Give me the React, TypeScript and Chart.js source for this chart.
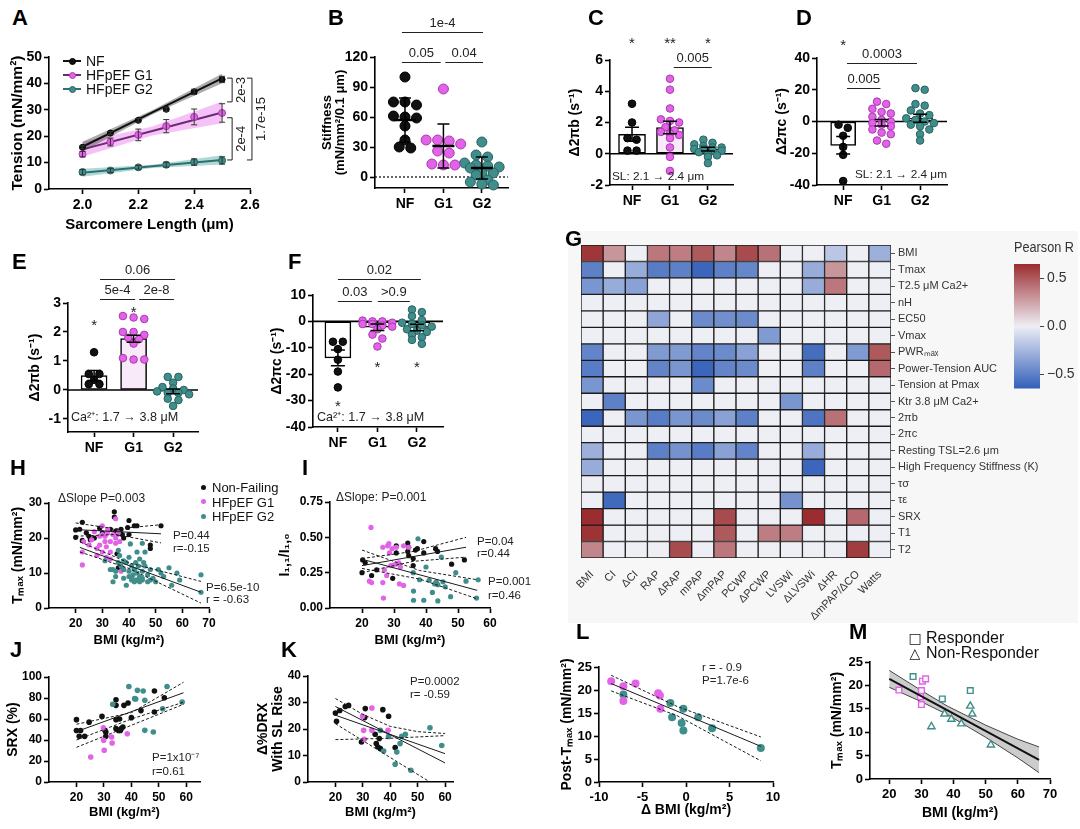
import React, { useEffect, useRef } from "react";
import { Chart, registerables } from "chart.js";

const FONT = "'Liberation Sans', Arial, Helvetica, sans-serif";
const NARROW = "'Liberation Sans Narrow', 'Liberation Sans', Arial, sans-serif";

const C_NF = "#111111";
const C_G1 = "#e262e8";
const C_G1_EDGE = "#a83bae";
const C_G2 = "#3f8e8b";
const C_G2_EDGE = "#2a6260";
const PT_FILL = [C_NF, C_G1, C_G2];
const PT_EDGE = ["#000000", C_G1_EDGE, C_G2_EDGE];
const BAR_FILL = ["#ffffff", "#f8eaf8", "#e8f1f1"];

type Pt = [number, number];

// ================= DATA =================
const groupLabels = ["NF", "G1", "G2"];
const catTicks = [0, 1, 2];

// ---- Panel A ----
const aSL = [2.0, 2.1, 2.2, 2.3, 2.4, 2.5];
const aNF = [15.8, 21.2, 26.0, 30.2, 36.8, 41.5];
const aNFerr = [0.6, 0.6, 0.7, 0.8, 1.0, 1.2];
const aG1 = [13.2, 17.8, 20.5, 23.8, 27.3, 28.8];
const aG1err = [1.0, 1.5, 2.2, 2.5, 3.0, 3.5];
const aG2 = [6.4, 7.0, 8.2, 9.2, 10.2, 10.8];
const aG2err = [1.0, 0.7, 0.7, 0.9, 1.2, 1.4];
const aFitSL = [2.0, 2.25, 2.5];
const aNFfit = [16.0, 29.0, 41.9];
const aNFlo = [14.1, 28.2, 40.1];
const aNFhi = [17.9, 29.8, 43.7];
const aG1fit = [15.0, 22.0, 29.0];
const aG1lo = [12.2, 20.3, 24.9];
const aG1hi = [17.9, 23.7, 33.1];
const aG2fit = [6.2, 8.6, 11.0];
const aG2lo = [4.6, 8.0, 9.3];
const aG2hi = [7.7, 9.2, 12.8];
const aXTicks = [2.0, 2.2, 2.4, 2.6];
const aYTicks = [0, 10, 20, 30, 40, 50];
const aLegend = ["NF", "HFpEF G1", "HFpEF G2"];

// ---- Panel B (stiffness) ----
const bNF = [100, 75, 72, 75, 59, 60, 61, 51, 37, 29, 30];
const bG1 = [88, 37, 36, 37, 33, 26, 24, 12, 13, 12];
const bG2 = [35, 22, 20, 14, 12, 11, 10, 9, 4, 2, 4, -3, -5, -7, -8];
const bMean = [57, 31, 9];
const bSD = [22, 22, 11];
const bYTicks = [0, 30, 60, 90, 120];

// ---- Panel C ----
const cNF = [3.2, 2.0, 1.0, 0.2, 0.2, 0.9];
const cG1 = [4.8, 4.1, 2.9, 2.2, 2.1, 2.0, 1.7, 1.5, 1.4, 1.3, 1.2, 1.0, 0.4, -0.2, -1.1];
const cG2 = [0.9, 0.7, 0.6, 0.5, 0.4, 0.4, 0.3, 0.3, 0.2, 0.2, 0.1, 0.0, -0.1, -0.2, -0.6];
const cMean = [1.25, 1.68, 0.3];
const cSEM = [0.45, 0.4, 0.12];
const cYTicks = [-2, 0, 2, 4, 6];

// ---- Panel D ----
const dNF = [-4, -2, -9, -16, -21, -37.5];
const dG1 = [12.5, 11, 8, 6, 5, 3, 1, 0, -1, -2, -3, -5, -7, -8, -12, -14];
const dG2 = [21, 20, 11, 10, 7, 5, 4, 2, 1, 0, -1, -2, -3, -5, -8, -12];
const dMean = [-15, -0.8, 2];
const dSEM = [5.5, 2, 2.5];
const dYTicks = [-40, -20, 0, 20, 40];

// ---- Panel E ----
const eNF = [1.3, 0.55, 0.55, 0.35, 0.2, 0.2];
const eG1 = [2.45, 2.55, 2.5, 2.0, 1.9, 2.0, 1.8, 1.6, 1.75, 1.05, 1.05, 1.1];
const eG2 = [0.45, 0.45, 0.25, 0.1, 0.05, 0, -0.05, -0.1, -0.1, -0.15, -0.3, -0.35, -0.55];
const eMean = [0.5, 1.77, -0.05];
const eSEM = [0.17, 0.12, 0.08];
const eYTicks = [-1, 0, 1, 2, 3];

// ---- Panel F ----
const fNF = [-7.7, -7.7, -10.5, -14.5, -19, -25];
const fG1 = [0, 0, 0.3, -0.5, -1, -1, -1.5, -2, -3, -5, -6.5, -9.5];
const fG2 = [4.5, 3.5, 2, 0.5, -0.5, -1, -1.5, -2, -3, -3.5, -4, -5, -6, -7, -8.5];
const fMean = [-13.8, -2.2, -2.3];
const fSEM = [3, 1.2, 1.2];
const fYTicks = [-40, -30, -20, -10, 0, 10];

// ---- Panel G (heatmap) ----
const gRows = [
  "BMI", "Tmax", "T2.5 μM Ca2+", "nH", "EC50", "Vmax", "PWRₘₐₓ", "Power-Tension AUC",
  "Tension at Pmax", "Ktr 3.8 μM Ca2+", "2πb", "2πc", "Resting TSL=2.6 μm",
  "High Frequency Stiffness (K)", "τσ", "τε", "SRX", "T1", "T2",
];
const gCols = ["BMI", "CI", "ΔCI", "RAP", "ΔRAP", "mPAP", "ΔmPAP", "PCWP", "ΔPCWP", "LVSWi", "ΔLVSWi", "ΔHR", "ΔmPAP/ΔCO", "Watts"];
const gR: number[][] = [
  [0.62, 0.30, 0, 0.40, 0.38, 0.50, 0.35, 0.55, 0.42, 0, 0, -0.18, 0, -0.28],
  [-0.50, 0, -0.30, -0.52, -0.50, -0.62, -0.50, -0.47, 0, 0, -0.30, 0.30, 0, 0],
  [-0.40, -0.30, -0.35, 0, 0, 0, 0, 0, 0, 0, -0.30, 0.40, 0, 0],
  [0, 0, 0, 0, 0, 0, 0, 0, 0, 0, 0, 0, 0, 0],
  [0, 0, 0, -0.33, 0, -0.45, -0.43, -0.45, 0, 0, 0, 0, 0, 0],
  [0, 0, 0, 0, 0, 0, 0, 0, -0.38, 0, 0, 0, 0, 0],
  [-0.48, 0, 0, -0.38, -0.38, -0.48, -0.45, -0.35, 0, 0, -0.58, 0, -0.38, 0.50],
  [-0.52, 0, 0, -0.48, -0.40, -0.62, -0.48, -0.45, 0, 0, -0.50, 0, 0, 0.45],
  [-0.40, 0, 0, 0, 0, -0.45, 0, 0, 0, 0, 0, 0, 0, 0],
  [0, -0.50, 0, 0, 0, 0, 0, 0, 0, -0.40, 0, 0, 0, 0],
  [-0.62, 0, -0.40, -0.52, -0.40, -0.45, -0.35, -0.50, 0, 0, -0.55, 0.42, 0, 0],
  [0, 0, 0, 0, 0, 0, 0, 0, 0, 0, 0, 0, 0, 0],
  [-0.28, 0, 0, -0.50, -0.42, -0.52, -0.35, -0.48, 0, 0, -0.30, 0, 0, 0],
  [-0.30, 0, 0, 0, 0, 0, 0, 0, 0, 0, -0.62, 0, 0, 0],
  [0, 0, 0, 0, 0, 0, 0, 0, 0, 0, 0, 0, 0, 0],
  [0, -0.60, 0, 0, 0, 0, 0, 0, 0, -0.42, 0, 0, 0, 0],
  [0.65, 0, 0, 0, 0, 0, 0.55, 0, 0, 0, 0.65, 0, 0.45, 0],
  [0.63, 0, 0, 0, 0, 0, 0.50, 0, 0.38, 0.38, 0, 0, 0, 0],
  [0.35, 0, 0, 0, 0.55, 0, 0.40, 0, 0, 0, 0, 0, 0.60, 0],
];
const cbMin = -0.65;
const cbMax = 0.65;
const cbTicks = [-0.5, 0, 0.5];

// ---- Panel H ----
const hNF: Pt[] = [[20,22.3],[20,20.2],[21.5,22.5],[22.5,24.5],[22.5,19.3],[24,21.5],[25.5,19.5],[27,20],[29,22.8],[33,22.5],[34.5,27.5],[34.5,26],[35,22],[36,21.2],[36.5,21.8],[37,22.5],[37.5,21],[38,20],[39.5,23],[40,25],[40,21],[42,23.5],[43,23.5],[48,18],[48,17],[52,23.5],[35.5,15.5],[36,11.5],[30,21.5],[25,20.5]];
const hG1: Pt[] = [[22.5,12.3],[22.5,16],[23,19],[25,18],[26,19.5],[27,21.8],[28,15],[28,17],[29,20.5],[30,23.5],[30,21],[30,16],[31,20.5],[31,19],[31.5,17.5],[31.5,14.5],[32,21.5],[32,22.5],[33,16],[33,19],[35,25.5],[35,20],[35,18.5],[36,21.5],[36.5,19],[37,10.5],[38,11],[29,18],[33,14],[34,21]];
const hG2: Pt[] = [[31,13.5],[33,11],[34,7.5],[35,9],[35,10.5],[36,13],[36.5,15],[37,12],[38,8.5],[38,11],[39,13],[39,6.5],[40,9],[40,10.5],[40.5,18.3],[41,8],[41,12],[41.5,9.5],[42,7.5],[42,11],[42.5,13],[43,8],[43,10],[43.5,12],[44,7.5],[44,9],[44,14],[45,8],[45,10.5],[45.5,13],[45,18.5],[46,12],[47,9.5],[48,8],[48,11],[49,8.5],[50,7.5],[51,11],[52,10],[53,9],[55,11.5],[56,6.5],[58,10],[59,8],[67,9.5],[67,4.5],[46,16],[38,13.5],[40,14.5],[43,16],[36,16.5],[34,11],[47,7.5],[44,8.5],[41,8.5],[42.5,8],[43.5,8],[45,8.5]];
const hFitNF: Pt[] = [[20,22.4],[52,21.2]];
const hHiNF: Pt[] = [[20,24.3],[35,22.6],[52,23.8]];
const hLoNF: Pt[] = [[20,20.5],[35,21.0],[52,18.6]];
const hFitHF: Pt[] = [[21.6,17.3],[67,4.5]];
const hHiHF: Pt[] = [[21.6,18.9],[40,12.9],[67,7.6]];
const hLoHF: Pt[] = [[21.6,16],[40,11.3],[67,1.4]];
const hXTicks = [20, 30, 40, 50, 60, 70];
const hYTicks = [0, 10, 20, 30];
const hLegend = ["Non-Failing", "HFpEF G1", "HFpEF G2"];

// ---- Panel I ----
const iNF: Pt[] = [[20,0.25],[20.2,0.34],[21,0.32],[23,0.23],[24.6,0.27],[29.6,0.21],[30.7,0.44],[30.7,0.39],[34.3,0.46],[34.6,0.43],[34.6,0.37],[36,0.35],[36,0.30],[36.7,0.41],[37.3,0.42],[39.3,0.47],[39.3,0.39],[43,0.42],[43.6,0.40],[48,0.31],[52,0.34],[34.3,0.40]];
const iG1: Pt[] = [[22.8,0.57],[22.3,0.19],[23,0.18],[26.5,0.43],[26.7,0.07],[28,0.44],[28.4,0.455],[28.6,0.39],[27,0.27],[27.7,0.23],[29.4,0.42],[29.6,0.30],[30.5,0.31],[30.7,0.43],[31.5,0.32],[31.7,0.17],[33,0.16],[33,0.44],[34.6,0.43],[32,0.29],[26.5,0.18],[29,0.30]];
const iG2: Pt[] = [[37.5,0.49],[36,0.25],[36.1,0.12],[36.1,0.055],[38,0.20],[39.3,0.055],[40,0.29],[41,0.196],[42,0.11],[42.7,0.17],[43.2,0.185],[43.7,0.165],[43.7,0.05],[44.8,0.36],[45.3,0.185],[46,0.15],[47.7,0.08],[49.3,0.25],[52.5,0.19],[56.3,0.20],[55.8,0.07]];
const iFitNF: Pt[] = [[20,0.30],[52.5,0.43]];
const iHiNF: Pt[] = [[20,0.35],[36,0.40],[52.5,0.50]];
const iLoNF: Pt[] = [[20,0.25],[36,0.33],[52.5,0.36]];
const iFitHF: Pt[] = [[20,0.345],[56,0.125]];
const iHiHF: Pt[] = [[20,0.41],[38,0.265],[56,0.20]];
const iLoHF: Pt[] = [[20,0.28],[38,0.205],[56,0.065]];
const iXTicks = [20, 30, 40, 50, 60];
const iYTicks = [0, 0.25, 0.5, 0.75];

// ---- Panel J ----
const jNF: Pt[] = [[20,59.4],[20,49],[21.5,49],[21,43.5],[23,43.5],[24.6,57],[29.3,62.5],[30.4,49],[30.7,43.5],[30.7,47.6],[34.4,78.4],[34.4,73],[34.4,59.4],[34.4,50.8],[35.3,49],[35.7,60],[36,49],[36.9,52.4],[37.3,73],[38.8,75.2],[40,61.3],[43.5,68],[48.4,86.7],[48.4,66.7],[52,80.3],[36.3,50.8]];
const jG1: Pt[] = [[25.2,23.8],[29.8,51.7],[29.9,39.7],[30.1,30.2],[32.8,42.9],[33,37.1],[38.5,46]];
const jG2: Pt[] = [[33.2,74],[39.1,91],[41.2,79.4],[42.2,87.3],[44.3,86.7],[44.9,77.8],[44.9,49.2],[48,47.6],[51.4,69.8],[53,91],[58.5,76.2],[41.6,79]];
const jHi: Pt[] = [[20,55],[40,66],[59,95]];
const jFit: Pt[] = [[20,48],[59,85]];
const jLo: Pt[] = [[20,40],[40,60],[59,76]];
const jLo2: Pt[] = [[20,33],[59,74]];
const jXTicks = [20, 30, 40, 50, 60];
const jYTicks = [0, 20, 40, 60, 80, 100];

// ---- Panel K ----
const kNF: Pt[] = [[20,26],[20.4,22.9],[21.6,27],[23.6,28.5],[24.8,28.9],[29.5,15.1],[30.7,24.3],[30.9,27.7],[34.5,18],[34.9,14.5],[35.5,13.2],[36,16.4],[36.4,12.6],[37.3,27.3],[39.4,24.8],[41.8,13]];
const kG1: Pt[] = [[29.9,24.8],[30.3,19.5],[30.5,16.1],[33.3,27.9],[33.3,19.5],[39.2,19.5]];
const kG2: Pt[] = [[36.4,19.5],[37.6,11.7],[39.4,17.2],[41.8,6.7],[42.4,11.3],[43.6,14.5],[44.2,17.2],[45.5,18],[47.5,4.4],[54.5,20.5],[58.8,13.8]];
const kHi: Pt[] = [[20,31.5],[30,25.5],[40,21],[50,19],[60,18.3]];
const kFitA: Pt[] = [[20,28.5],[60,7.2]];
const kFitB: Pt[] = [[20,25.2],[60,10.7]];
const kLo: Pt[] = [[20,16],[40,16.5],[60,17.5]];
const kSteep: Pt[] = [[20,22],[54.5,0]];
const kXTicks = [20, 30, 40, 50, 60];
const kYTicks = [0, 10, 20, 30, 40];

// ---- Panel L ----
const lG1: Pt[] = [[-8.6,21.9],[-7.2,20.8],[-7.2,17.6],[-5.8,21.4],[-3.2,19.3],[-3.0,18.8],[-2.95,15.9]];
const lG2: Pt[] = [[-7.2,19],[-1.8,17.2],[-1.6,14.1],[-0.3,15.9],[-0.5,12.8],[-0.3,11.2],[1.4,14.1],[3.0,11.7],[8.6,7.4]];
const lFit: Pt[] = [[-8.6,21.4],[8.6,7.75]];
const lHi: Pt[] = [[-8.6,23.2],[-1,16.4],[8.6,9.8]];
const lLo: Pt[] = [[-8.6,19.8],[-1,14.4],[8.6,4.6]];
const lXTicks = [-10, -5, 0, 5, 10];
const lYTicks = [0, 5, 10, 15, 20, 25];

// ---- Panel M ----
const mRespG1: Pt[] = [[23,19],[30.3,20.9],[31.3,21.4],[30,18.9],[29.7,17.6],[30,15.9]];
const mRespG2: Pt[] = [[27.4,21.9],[36.5,17.1],[45.2,18.9]];
const mNonResp: Pt[] = [[33.1,11.2],[37.2,13.9],[39.3,12.8],[42.4,11.8],[45.2,15.6],[45.8,13.9],[51.6,7.3]];
const mFit: Pt[] = [[20,21.4],[66.6,4.1]];
const mHi: Pt[] = [[20,23.2],[30,18.9],[38,15.6],[50,11.5],[60,8.5],[66.6,6.85]];
const mLo: Pt[] = [[20,19.6],[30,16.5],[38,13.8],[50,8.9],[60,4.5],[66.6,1.35]];
const mXTicks = [20, 30, 40, 50, 60, 70];
const mYTicks = [0, 5, 10, 15, 20, 25];
const mLegend = ["Responder", "Non-Responder"];

// ================= LAYOUT =================
type Box = { x: number; y: number; w: number; h: number };
type Area = { l: number; t: number; r: number; b: number };

const BOX: Record<string, Box> = {
  A: { x: 0, y: 30, w: 290, h: 205 },
  B: { x: 295, y: 0, w: 240, h: 235 },
  C: { x: 545, y: 0, w: 200, h: 235 },
  D: { x: 750, y: 0, w: 215, h: 235 },
  E: { x: 0, y: 255, w: 215, h: 200 },
  F: { x: 220, y: 255, w: 240, h: 200 },
  G: { x: 555, y: 232, w: 495, h: 395 },
  CB: { x: 980, y: 240, w: 94, h: 160 },
  H: { x: 0, y: 475, w: 280, h: 175 },
  I: { x: 275, y: 475, w: 275, h: 175 },
  J: { x: 0, y: 665, w: 250, h: 164 },
  K: { x: 250, y: 665, w: 230, h: 164 },
  L: { x: 556, y: 640, w: 234, h: 189 },
  M: { x: 825, y: 640, w: 250, h: 189 },
};
const AREA: Record<string, Area> = {
  A: { l: 49, t: 57, r: 250, b: 189 },
  B: { l: 375, t: 57, r: 508, b: 188 },
  C: { l: 610, t: 60, r: 733, b: 185 },
  D: { l: 817, t: 58, r: 947, b: 185 },
  E: { l: 68, t: 303, r: 198, b: 432 },
  F: { l: 313, t: 295, r: 443, b: 427 },
  G: { l: 581, t: 245, r: 891, b: 558 },
  CB: { l: 1014, t: 264, r: 1040, b: 390 },
  H: { l: 49, t: 503, r: 209, b: 608 },
  I: { l: 330, t: 502, r: 490, b: 608 },
  J: { l: 49, t: 677, r: 200, b: 782 },
  K: { l: 308, t: 676, r: 453, b: 782 },
  L: { l: 599, t: 667, r: 773, b: 782 },
  M: { l: 870, t: 662, r: 1050, b: 779 },
};

// ================= HELPERS =================
function cmap(v: number) {
  const t = Math.max(-1, Math.min(1, v / 0.65));
  const mid = [238, 238, 245];
  const pos = [155, 45, 48];
  const neg = [50, 95, 185];
  const end = t >= 0 ? pos : neg;
  const a = Math.abs(t);
  const c = mid.map((m, i) => Math.round(m + (end[i] - m) * a));
  return `rgb(${c[0]},${c[1]},${c[2]})`;
}

const toXY = (a: Pt[]) => a.map(([x, y]) => ({ x, y }));

function swarm(vals: number[], cat: number, thr: number, dx: number, maxRow = 4) {
  const order = vals.map((_, i) => i).sort((a, b) => vals[b] - vals[a]);
  const out: { x: number; y: number }[] = new Array(vals.length);
  let row: number[] = [];
  const flush = () => {
    const n = row.length;
    row.forEach((k, j) => {
      out[k] = { x: cat + (j - (n - 1) / 2) * dx, y: vals[k] };
    });
    row = [];
  };
  order.forEach((k) => {
    if (row.length && (vals[row[0]] - vals[k] > thr || row.length >= maxRow)) flush();
    row.push(k);
  });
  flush();
  return out;
}

interface Ax {
  min: number;
  max: number;
  ticks: number[];
  fmt?: (v: number) => string;
  title?: string | string[];
  titleAt?: number;
  titleSize?: number;
  tickSize?: number;
  lh?: number;
}

const axisLine = { display: true, color: "#000", width: 1.6 };
const axisGrid = { display: true, drawOnChartArea: false, drawTicks: true, tickLength: 5, tickColor: "#000", tickWidth: 1.6 };

function yAx(o: Ax, box: Box, area: Area) {
  const W = area.l - box.x;
  const ts = o.titleSize ?? 14;
  const lh = o.lh ?? 1.15;
  return {
    type: "linear",
    position: "left",
    min: o.min,
    max: o.max,
    afterBuildTicks: (s: any) => {
      s.ticks = o.ticks.map((v) => ({ value: v }));
    },
    afterFit: (s: any) => {
      s.width = W;
    },
    border: axisLine,
    grid: axisGrid,
    ticks: {
      autoSkip: false,
      color: "#000",
      padding: 2,
      font: { family: FONT, size: o.tickSize ?? 14, weight: "bold" },
      callback: (v: any) => (o.fmt ? o.fmt(Number(v)) : String(v)),
    },
    title: o.title
      ? {
          display: true,
          text: o.title,
          color: "#000",
          font: { family: FONT, size: ts, weight: "bold", lineHeight: lh },
          padding: { top: (o.titleAt ?? 0) - box.x - (ts * lh) / 2, bottom: 0 },
        }
      : { display: false },
  };
}

function xAx(o: Ax, box: Box, area: Area) {
  const H = box.y + box.h - area.b;
  const ts = o.titleSize ?? 14;
  const lh = o.lh ?? 1.15;
  return {
    type: "linear",
    position: "bottom",
    min: o.min,
    max: o.max,
    offset: false,
    afterBuildTicks: (s: any) => {
      s.ticks = o.ticks.map((v) => ({ value: v }));
    },
    afterFit: (s: any) => {
      s.height = H;
    },
    border: axisLine,
    grid: { ...axisGrid, offset: false },
    ticks: {
      autoSkip: false,
      maxRotation: 0,
      color: "#000",
      padding: 3,
      font: { family: FONT, size: o.tickSize ?? 14, weight: "bold" },
      callback: (v: any) => (o.fmt ? o.fmt(Number(v)) : String(v)),
    },
    title: o.title
      ? {
          display: true,
          text: o.title,
          color: "#000",
          font: { family: FONT, size: ts, weight: "bold", lineHeight: lh },
          padding: { top: 0, bottom: box.y + box.h - (o.titleAt ?? 0) - (ts * lh) / 2 },
        }
      : { display: false },
  };
}

function baseOptions(box: Box, area: Area, scales: any, plugins: any = {}) {
  return {
    responsive: false,
    animation: false,
    events: [],
    layout: { padding: { left: 0, top: area.t - box.y, right: box.x + box.w - area.r, bottom: 0 } },
    plugins: { legend: { display: false }, tooltip: { enabled: false }, title: { display: false }, ...plugins },
    scales,
  };
}

// ---- plugins ----
const annotPlugin = {
  id: "annot",
  afterDatasetsDraw(chart: any, _args: any, opts: any) {
    if (!opts) return;
    const { ctx } = chart;
    const xs = chart.scales.x;
    const ys = chart.scales.y;
    if (!xs || !ys) return;
    const size = opts.size || 13;
    ctx.save();
    ctx.fillStyle = "#222";
    ctx.strokeStyle = "#222";
    ctx.lineWidth = 1;
    ctx.font = `${size}px ${FONT}`;
    for (const b of opts.brackets || []) {
      const x1 = xs.getPixelForValue(b.from);
      const x2 = xs.getPixelForValue(b.to);
      const y = Math.round(ys.getPixelForValue(b.y)) + 0.5;
      ctx.beginPath();
      ctx.moveTo(x1, y);
      ctx.lineTo(x2, y);
      ctx.stroke();
      ctx.textAlign = "center";
      ctx.textBaseline = "alphabetic";
      ctx.fillText(b.text, (x1 + x2) / 2, y - 6);
    }
    for (const s of opts.stars || []) {
      ctx.textAlign = "center";
      ctx.textBaseline = "middle";
      ctx.font = `${size + 2}px ${FONT}`;
      ctx.fillText(s.text, xs.getPixelForValue(s.x), ys.getPixelForValue(s.y) + size * 0.3);
    }
    ctx.font = `${size}px ${FONT}`;
    for (const v of opts.vbrackets || []) {
      const x = xs.getPixelForValue(v.x);
      const y1 = ys.getPixelForValue(v.y1);
      const y2 = ys.getPixelForValue(v.y2);
      ctx.beginPath();
      ctx.moveTo(x - 5, y1);
      ctx.lineTo(x, y1);
      ctx.lineTo(x, y2);
      ctx.lineTo(x - 5, y2);
      ctx.stroke();
      ctx.save();
      ctx.translate(x + 9, (y1 + y2) / 2);
      ctx.rotate(-Math.PI / 2);
      ctx.textAlign = "center";
      ctx.textBaseline = "middle";
      ctx.fillText(v.text, 0, 0);
      ctx.restore();
    }
    ctx.restore();
  },
};

const errPlugin = {
  id: "errbars",
  afterDatasetsDraw(chart: any) {
    const { ctx } = chart;
    chart.data.datasets.forEach((ds: any, i: number) => {
      if (!ds.errorBars) return;
      const meta = chart.getDatasetMeta(i);
      const xs = chart.scales[meta.xAxisID];
      const ys = chart.scales[meta.yAxisID];
      ctx.save();
      ctx.strokeStyle = ds.errorColor || "#000";
      ctx.lineWidth = ds.errorWidth || 1.5;
      ds.data.forEach((p: any, j: number) => {
        const e = ds.errorBars[j];
        if (!e) return;
        const x = xs.getPixelForValue(p.x);
        const y1 = ys.getPixelForValue(p.y - e);
        const y2 = ys.getPixelForValue(p.y + e);
        const c = ds.errorCap || 4;
        ctx.beginPath();
        ctx.moveTo(x, y1);
        ctx.lineTo(x, y2);
        ctx.moveTo(x - c, y1);
        ctx.lineTo(x + c, y1);
        ctx.moveTo(x - c, y2);
        ctx.lineTo(x + c, y2);
        ctx.stroke();
      });
      ctx.restore();
    });
  },
};

Chart.register(...registerables, annotPlugin as any, errPlugin as any);
Chart.defaults.font.family = FONT;
Chart.defaults.color = "#000";

// ================= CONFIGS =================
function configA() {
  const box = BOX.A;
  const area = AREA.A;
  const band = (lo: number[], hi: number[], color: string) => [
    { type: "line", data: aFitSL.map((x, i) => ({ x, y: hi[i] })), borderColor: "transparent", borderWidth: 1, pointRadius: 0, fill: false, order: 9 },
    { type: "line", data: aFitSL.map((x, i) => ({ x, y: lo[i] })), borderColor: "transparent", borderWidth: 1, pointRadius: 0, fill: "-1", backgroundColor: color, order: 9 },
  ];
  const fit = (y: number[], color: string) => ({ type: "line", data: aFitSL.map((x, i) => ({ x, y: y[i] })), borderColor: color, borderWidth: 2, pointRadius: 0, fill: false, order: 5 });
  const pts = (y: number[], e: number[], fillC: string, edge: string, r: number) => ({
    type: "scatter",
    data: aSL.map((x, i) => ({ x, y: y[i] })),
    pointRadius: r,
    pointBackgroundColor: fillC,
    pointBorderColor: edge,
    pointBorderWidth: 1,
    errorBars: e,
    errorCap: 3,
    errorWidth: 1,
    errorColor: "#333",
    order: 1,
    clip: false,
  });
  const datasets = [
    ...band(aNFlo, aNFhi, "rgba(70,70,70,0.45)"),
    ...band(aG1lo, aG1hi, "rgba(232,120,238,0.45)"),
    ...band(aG2lo, aG2hi, "rgba(80,170,165,0.45)"),
    fit(aNFfit, "#111"),
    fit(aG1fit, "#6e2a72"),
    fit(aG2fit, "#2d706d"),
    pts(aNF, aNFerr, "#111", "#000", 3),
    pts(aG1, aG1err, C_G1, C_G1_EDGE, 3.5),
    pts(aG2, aG2err, C_G2, C_G2_EDGE, 3.5),
  ];
  return {
    type: "scatter",
    data: { datasets },
    options: baseOptions(
      box,
      area,
      {
        x: xAx({ min: 1.88, max: 2.6, ticks: aXTicks, fmt: (v) => v.toFixed(1), title: "Sarcomere Length (μm)", titleAt: 225, titleSize: 15 }, box, area),
        y: yAx({ min: 0, max: 50, ticks: aYTicks, title: "Tension (mN/mm²)", titleAt: 18, titleSize: 15.5 }, box, area),
      },
      {
        annot: {
          size: 13,
          vbrackets: [
            { x: 2.536, y1: 42, y2: 33, text: "2e-3" },
            { x: 2.536, y1: 27, y2: 11, text: "2e-4" },
            { x: 2.607, y1: 42, y2: 11, text: "1.7e-15" },
          ],
        },
      }
    ),
  };
}

interface CatP {
  key: string;
  xmin: number;
  xmax: number;
  ymin: number;
  ymax: number;
  yticks: number[];
  title: string | string[];
  titleAt: number;
  titleSize?: number;
  lh?: number;
  groups: number[][];
  means: number[];
  errs: number[];
  bars: boolean;
  barW?: number;
  thr: number;
  dx: number;
  r: number;
  dotted?: boolean;
  annot: any;
}

function catConfig(p: CatP) {
  const box = BOX[p.key];
  const area = AREA[p.key];
  const datasets: any[] = [];
  datasets.push({
    type: "line",
    data: [{ x: p.xmin, y: 0 }, { x: p.xmax, y: 0 }],
    borderColor: "#000",
    borderWidth: p.dotted ? 1.2 : 1.6,
    borderDash: p.dotted ? [2, 2] : [],
    pointRadius: 0,
    fill: false,
    order: 2,
  });
  if (p.bars) {
    datasets.push({
      type: "bar",
      data: p.means.map((m, i) => ({ x: i, y: m })),
      backgroundColor: BAR_FILL,
      borderColor: "#000",
      borderWidth: 1.5,
      borderSkipped: false,
      barThickness: p.barW ?? 26,
      errorBars: p.errs,
      errorCap: 7,
      order: 3,
    });
  } else {
    datasets.push({
      type: "scatter",
      data: p.means.map((m, i) => ({ x: i, y: m })),
      pointStyle: "line",
      pointRadius: 11,
      pointBorderColor: "#000",
      pointBorderWidth: 2.5,
      errorBars: p.errs,
      errorCap: 6,
      order: 0,
    });
  }
  p.groups.forEach((vals, i) =>
    datasets.push({
      type: "scatter",
      data: swarm(vals, i, p.thr, p.dx),
      pointRadius: p.r,
      pointBackgroundColor: PT_FILL[i],
      pointBorderColor: PT_EDGE[i],
      pointBorderWidth: 1,
      order: 1,
      clip: false,
    })
  );
  return {
    type: "scatter",
    data: { datasets },
    options: baseOptions(
      box,
      area,
      {
        x: xAx({ min: p.xmin, max: p.xmax, ticks: catTicks, fmt: (v) => groupLabels[Math.round(v)] ?? "" }, box, area),
        y: yAx({ min: p.ymin, max: p.ymax, ticks: p.yticks, title: p.title, titleAt: p.titleAt, titleSize: p.titleSize, lh: p.lh }, box, area),
      },
      { annot: p.annot }
    ),
  };
}

interface LineSpec {
  pts: Pt[];
  dash?: boolean;
  width?: number;
  color?: string;
  fill?: string | false;
  bg?: string;
  order?: number;
}
interface PtSpec {
  pts: Pt[];
  color: string;
  r: number;
  style?: string;
  hollow?: boolean;
  bw?: number;
}

function xyConfig(key: string, xa: Ax, ya: Ax, pts: PtSpec[], lines: LineSpec[]) {
  const box = BOX[key];
  const area = AREA[key];
  const datasets: any[] = [];
  lines.forEach((l) =>
    datasets.push({
      type: "line",
      data: toXY(l.pts),
      borderColor: l.color ?? "#1a1a1a",
      borderWidth: l.width ?? 1,
      borderDash: l.dash ? [3, 2] : [],
      pointRadius: 0,
      fill: l.fill ?? false,
      backgroundColor: l.bg ?? "transparent",
      tension: 0,
      order: l.order ?? 0,
    })
  );
  pts.forEach((p) =>
    datasets.push({
      type: "scatter",
      data: toXY(p.pts),
      pointStyle: p.style ?? "circle",
      pointRadius: p.r,
      pointBackgroundColor: p.hollow ? "#ffffff" : p.color,
      pointBorderColor: p.color,
      pointBorderWidth: p.bw ?? 0,
      order: 1,
      clip: false,
    })
  );
  return {
    type: "scatter",
    data: { datasets },
    options: baseOptions(box, area, { x: xAx(xa, box, area), y: yAx(ya, box, area) }),
  };
}

const BMI_T = "BMI (kg/m²)";
const TMAX_T = "Tₘₐₓ (mN/mm²)";

const configB = () =>
  catConfig({
    key: "B", xmin: -0.78, xmax: 2.68, ymin: -11, ymax: 120, yticks: bYTicks,
    title: ["Stiffness", "(mN/mm²/0.1 μm)"], titleAt: 327, titleSize: 13, lh: 1.0,
    groups: [bNF, bG1, bG2], means: bMean, errs: bSD, bars: false, thr: 6, dx: 0.3, r: 5, dotted: true,
    annot: {
      size: 13,
      brackets: [
        { from: -0.08, to: 2.03, y: 145, text: "1e-4" },
        { from: -0.08, to: 0.93, y: 115, text: "0.05" },
        { from: 1.05, to: 2.03, y: 115, text: "0.04" },
      ],
    },
  });

const configC = () =>
  catConfig({
    key: "C", xmin: -0.58, xmax: 2.66, ymin: -2, ymax: 6, yticks: cYTicks,
    title: "Δ2πb (s⁻¹)", titleAt: 575,
    groups: [cNF, cG1, cG2], means: cMean, errs: cSEM, bars: true, barW: 27, thr: 0.25, dx: 0.24, r: 3.8,
    annot: {
      size: 13,
      brackets: [{ from: 1.1, to: 2.1, y: 5.55, text: "0.005" }],
      stars: [
        { x: 0, y: 7.3, text: "*" },
        { x: 1, y: 7.3, text: "**" },
        { x: 2, y: 7.3, text: "*" },
      ],
    },
  });

const configD = () =>
  catConfig({
    key: "D", xmin: -0.68, xmax: 2.7, ymin: -40, ymax: 40, yticks: dYTicks,
    title: "Δ2πc (s⁻¹)", titleAt: 782,
    groups: [dNF, dG1, dG2], means: dMean, errs: dSEM, bars: true, barW: 25, thr: 3, dx: 0.24, r: 3.8,
    annot: {
      size: 13,
      brackets: [
        { from: 0.1, to: 1.92, y: 37, text: "0.0003" },
        { from: 0.1, to: 0.97, y: 20.8, text: "0.005" },
      ],
      stars: [{ x: 0, y: 50, text: "*" }],
    },
  });

const configE = () =>
  catConfig({
    key: "E", xmin: -0.66, xmax: 2.63, ymin: -1.45, ymax: 3, yticks: eYTicks,
    title: "Δ2πb (s⁻¹)", titleAt: 35,
    groups: [eNF, eG1, eG2], means: eMean, errs: eSEM, bars: true, barW: 26, thr: 0.12, dx: 0.27, r: 3.8,
    annot: {
      size: 13,
      brackets: [
        { from: 0.15, to: 2.05, y: 3.83, text: "0.06" },
        { from: 0.15, to: 1.04, y: 3.14, text: "5e-4" },
        { from: 1.14, to: 2.02, y: 3.14, text: "2e-8" },
      ],
      stars: [
        { x: 0, y: 2.35, text: "*" },
        { x: 1, y: 2.8, text: "*" },
      ],
    },
  });

const configF = () =>
  catConfig({
    key: "F", xmin: -0.63, xmax: 2.66, ymin: -40, ymax: 10, yticks: fYTicks,
    title: "Δ2πc (s⁻¹)", titleAt: 277,
    groups: [fNF, fG1, fG2], means: fMean, errs: fSEM, bars: true, barW: 26, thr: 1.6, dx: 0.25, r: 3.8,
    annot: {
      size: 13,
      brackets: [
        { from: 0, to: 2.1, y: 16, text: "0.02" },
        { from: 0, to: 0.86, y: 7.7, text: "0.03" },
        { from: 1.01, to: 1.82, y: 7.7, text: ">0.9" },
      ],
      stars: [
        { x: 0, y: -31, text: "*" },
        { x: 1, y: -16, text: "*" },
        { x: 2, y: -16, text: "*" },
      ],
    },
  });

function configHeat() {
  const box = BOX.G;
  const area = AREA.G;
  return {
    type: "bar",
    data: {
      labels: gCols,
      datasets: gRows.map((name, r) => ({
        label: name,
        data: gCols.map(() => 1),
        backgroundColor: gR[r].map(cmap),
        borderColor: "#1c1c1c",
        borderWidth: 1,
        borderSkipped: false,
        barPercentage: 1,
        categoryPercentage: 1,
      })),
    },
    options: {
      responsive: false,
      animation: false,
      events: [],
      layout: { padding: { left: area.l - box.x, top: area.t - box.y, right: 0, bottom: 0 } },
      plugins: { legend: { display: false }, tooltip: { enabled: false } },
      scales: {
        x: {
          stacked: true,
          grid: { display: false },
          border: { display: false },
          ticks: { autoSkip: false, minRotation: 45, maxRotation: 45, color: "#333", font: { family: FONT, size: 11 }, padding: 2 },
          afterFit: (s: any) => {
            s.height = box.y + box.h - area.b;
          },
        },
        y: {
          stacked: true,
          position: "right",
          min: 0,
          max: gRows.length,
          reverse: true,
          afterBuildTicks: (s: any) => {
            s.ticks = gRows.map((_, i) => ({ value: i + 0.5 }));
          },
          ticks: {
            autoSkip: false,
            color: "#333",
            font: { family: FONT, size: 11 },
            padding: 3,
            callback: (v: any) => gRows[Math.floor(Number(v))] ?? "",
          },
          grid: { display: true, drawOnChartArea: false, drawTicks: true, tickLength: 4, tickColor: "#555", tickWidth: 1 },
          border: { display: false },
          afterFit: (s: any) => {
            s.width = box.x + box.w - area.r;
          },
        },
      },
    },
  };
}

function configCbar() {
  const box = BOX.CB;
  const area = AREA.CB;
  return {
    type: "bar",
    data: {
      labels: [""],
      datasets: [
        {
          data: [[cbMin, cbMax]],
          backgroundColor: (c: any) => {
            const ca = c.chart.chartArea;
            if (!ca) return "#eeeef5";
            const g = c.chart.ctx.createLinearGradient(0, ca.bottom, 0, ca.top);
            for (let i = 0; i <= 20; i++) g.addColorStop(i / 20, cmap(cbMin + ((cbMax - cbMin) * i) / 20));
            return g;
          },
          borderWidth: 0,
          barPercentage: 1,
          categoryPercentage: 1,
        },
      ],
    },
    options: {
      responsive: false,
      animation: false,
      events: [],
      layout: { padding: { left: area.l - box.x, top: 0, right: 0, bottom: box.y + box.h - area.b } },
      plugins: {
        legend: { display: false },
        tooltip: { enabled: false },
        title: {
          display: true,
          text: "Pearson R",
          color: "#333",
          font: { family: FONT, size: 14, weight: "normal", lineHeight: 1.2 },
          padding: { top: 0, bottom: area.t - box.y - 14 * 1.2 },
        },
      },
      scales: {
        x: { display: false },
        y: {
          position: "right",
          min: cbMin,
          max: cbMax,
          afterBuildTicks: (s: any) => {
            s.ticks = cbTicks.map((v) => ({ value: v }));
          },
          ticks: {
            color: "#333",
            font: { family: FONT, size: 14 },
            padding: 3,
            callback: (v: any) => {
              const n = Number(v);
              return n === 0 ? "0.0" : n > 0 ? n.toFixed(1) : "−" + Math.abs(n).toFixed(1);
            },
          },
          grid: { display: true, drawOnChartArea: false, drawTicks: true, tickLength: 4, tickColor: "#444" },
          border: { display: false },
          afterFit: (s: any) => {
            s.width = box.x + box.w - area.r;
          },
        },
      },
    },
  };
}

const configH = () =>
  xyConfig(
    "H",
    { min: 10, max: 70, ticks: hXTicks, title: BMI_T, titleAt: 640, titleSize: 13, tickSize: 12 },
    { min: 0, max: 30, ticks: hYTicks, title: TMAX_T, titleAt: 18, titleSize: 14, tickSize: 12 },
    [
      { pts: hG2, color: C_G2, r: 2.6 },
      { pts: hG1, color: C_G1, r: 2.6 },
      { pts: hNF, color: C_NF, r: 2.6 },
    ],
    [
      { pts: hFitNF },
      { pts: hHiNF, dash: true },
      { pts: hLoNF, dash: true },
      { pts: hFitHF },
      { pts: hHiHF, dash: true },
      { pts: hLoHF, dash: true },
    ]
  );

const configI = () =>
  xyConfig(
    "I",
    { min: 10, max: 60, ticks: iXTicks, title: BMI_T, titleAt: 640, titleSize: 13, tickSize: 12 },
    { min: 0, max: 0.75, ticks: iYTicks, fmt: (v) => v.toFixed(2), title: "I₁,₁/I₁,₀", titleAt: 285, titleSize: 14, tickSize: 12 },
    [
      { pts: iG2, color: C_G2, r: 2.6 },
      { pts: iG1, color: C_G1, r: 2.6 },
      { pts: iNF, color: C_NF, r: 2.6 },
    ],
    [
      { pts: iFitNF },
      { pts: iHiNF, dash: true },
      { pts: iLoNF, dash: true },
      { pts: iFitHF },
      { pts: iHiHF, dash: true },
      { pts: iLoHF, dash: true },
    ]
  );

const configJ = () =>
  xyConfig(
    "J",
    { min: 10, max: 65, ticks: jXTicks, title: BMI_T, titleAt: 812, titleSize: 13, tickSize: 12 },
    { min: 0, max: 100, ticks: jYTicks, title: "SRX (%)", titleAt: 13, titleSize: 14, tickSize: 12 },
    [
      { pts: jG2, color: C_G2, r: 2.8 },
      { pts: jG1, color: C_G1, r: 2.8 },
      { pts: jNF, color: C_NF, r: 2.8 },
    ],
    [{ pts: jHi, dash: true }, { pts: jFit }, { pts: jLo, dash: true }, { pts: jLo2, dash: true }]
  );

const configK = () =>
  xyConfig(
    "K",
    { min: 10, max: 62.9, ticks: kXTicks, title: BMI_T, titleAt: 812, titleSize: 13, tickSize: 12 },
    { min: 0, max: 40, ticks: kYTicks, title: ["Δ%DRX", "With SL Rise"], titleAt: 263, titleSize: 14, lh: 1.1, tickSize: 12 },
    [
      { pts: kG2, color: C_G2, r: 2.8 },
      { pts: kG1, color: C_G1, r: 2.8 },
      { pts: kNF, color: C_NF, r: 2.8 },
    ],
    [{ pts: kHi, dash: true }, { pts: kFitA }, { pts: kFitB }, { pts: kLo, dash: true }, { pts: kSteep, dash: true }]
  );

const configL = () =>
  xyConfig(
    "L",
    { min: -10, max: 10, ticks: lXTicks, title: "Δ BMI (kg/m²)", titleAt: 810, titleSize: 14, tickSize: 13 },
    { min: 0, max: 25, ticks: lYTicks, title: "Post-Tₘₐₓ (mN/mm²)", titleAt: 567, titleSize: 14, tickSize: 13 },
    [
      { pts: lG1, color: C_G1, r: 4 },
      { pts: lG2, color: C_G2, r: 4 },
    ],
    [{ pts: lFit }, { pts: lHi, dash: true }, { pts: lLo, dash: true }]
  );

const configM = () =>
  xyConfig(
    "M",
    { min: 14, max: 70, ticks: mXTicks, title: BMI_T, titleAt: 813, titleSize: 14, tickSize: 13 },
    { min: 0, max: 25, ticks: mYTicks, title: TMAX_T, titleAt: 837, titleSize: 14, tickSize: 13 },
    [
      { pts: mRespG1, color: C_G1, r: 4, style: "rect", hollow: true, bw: 1.4 },
      { pts: mRespG2, color: C_G2, r: 4, style: "rect", hollow: true, bw: 1.4 },
      { pts: mNonResp, color: C_G2, r: 4.2, style: "triangle", hollow: true, bw: 1.4 },
    ],
    [
      { pts: mHi, color: "#444", width: 1, order: 6 },
      { pts: mLo, color: "#444", width: 1, fill: "-1", bg: "rgba(0,0,0,0.2)", order: 6 },
      { pts: mFit, color: "#111", width: 2, order: 0 },
    ]
  );

// ================= COMPONENTS =================
function ChartCanvas({ box, make }: { box: Box; make: () => any }) {
  const ref = useRef<HTMLCanvasElement>(null);
  useEffect(() => {
    if (!ref.current) return;
    const c = new Chart(ref.current, make());
    return () => c.destroy();
  }, []);
  return (
    <canvas
      ref={ref}
      width={box.w}
      height={box.h}
      style={{ position: "absolute", left: box.x, top: box.y, width: box.w, height: box.h }}
    />
  );
}

function Txt({
  x, y, children, size = 13, bold = false, align = "left", font = FONT, color = "#222",
}: {
  x: number; y: number; children: React.ReactNode; size?: number; bold?: boolean; align?: string; font?: string; color?: string;
}) {
  const tx = align === "center" ? "-50%" : align === "right" ? "-100%" : "0";
  return (
    <div
      style={{
        position: "absolute", left: x, top: y, transform: `translate(${tx},-50%)`, fontFamily: font,
        fontSize: size, fontWeight: bold ? 700 : 400, color, whiteSpace: "nowrap", lineHeight: 1,
      }}
    >
      {children}
    </div>
  );
}

const LETTERS: [string, number, number][] = [
  ["A", 12, 18], ["B", 328, 18], ["C", 588, 18], ["D", 796, 18], ["E", 12, 262], ["F", 288, 262], ["G", 565, 239],
  ["H", 10, 468], ["I", 302, 468], ["J", 10, 650], ["K", 281, 650], ["L", 576, 632], ["M", 849, 632],
];

const NOTES: [string, number, number, number, string][] = [
  ["SL: 2.1 → 2.4 μm", 612, 177, 11.8, "left"],
  ["SL: 2.1 → 2.4 μm", 947, 175, 11.8, "right"],
  ["Ca²⁺: 1.7 → 3.8 μM", 71, 417, 12.6, "left"],
  ["Ca²⁺: 1.7 → 3.8 μM", 317, 417, 12.6, "left"],
  ["ΔSlope P=0.003", 58, 498, 12, "left"],
  ["P=0.44", 173, 536, 11.5, "left"],
  ["r=-0.15", 173, 549, 11.5, "left"],
  ["P=6.5e-10", 206, 588, 11.5, "left"],
  ["r = -0.63", 206, 600, 11.5, "left"],
  ["ΔSlope: P=0.001", 336, 497, 12, "left"],
  ["P=0.04", 477, 542, 11.5, "left"],
  ["r=0.44", 477, 554, 11.5, "left"],
  ["P=0.001", 488, 582, 11.5, "left"],
  ["r=0.46", 488, 596, 11.5, "left"],
  ["P=1x10⁻⁷", 152, 758, 11.5, "left"],
  ["r=0.61", 152, 772, 11.5, "left"],
  ["P=0.0002", 410, 682, 11.5, "left"],
  ["r= -0.59", 410, 695, 11.5, "left"],
  ["r = - 0.9", 702, 668, 11.5, "left"],
  ["P=1.7e-6", 702, 681, 11.5, "left"],
];

export default function App() {
  const aCols = [["#111", "#111", "#000"], ["#6e2a72", C_G1, C_G1_EDGE], ["#2d706d", C_G2, C_G2_EDGE]];
  const hCols = [C_NF, C_G1, C_G2];
  return (
    <div style={{ position: "absolute", left: 0, top: 0, width: 1080, height: 829, background: "#fff", overflow: "hidden", fontFamily: FONT }}>
      <div style={{ position: "absolute", left: 568, top: 231, width: 510, height: 392, background: "#f7f7f7" }} />
      <ChartCanvas box={BOX.A} make={configA} />
      <ChartCanvas box={BOX.B} make={configB} />
      <ChartCanvas box={BOX.C} make={configC} />
      <ChartCanvas box={BOX.D} make={configD} />
      <ChartCanvas box={BOX.E} make={configE} />
      <ChartCanvas box={BOX.F} make={configF} />
      <ChartCanvas box={BOX.G} make={configHeat} />
      <ChartCanvas box={BOX.CB} make={configCbar} />
      <ChartCanvas box={BOX.H} make={configH} />
      <ChartCanvas box={BOX.I} make={configI} />
      <ChartCanvas box={BOX.J} make={configJ} />
      <ChartCanvas box={BOX.K} make={configK} />
      <ChartCanvas box={BOX.L} make={configL} />
      <ChartCanvas box={BOX.M} make={configM} />

      {LETTERS.map(([t, x, y]) => (
        <Txt key={"L" + t} x={x} y={y} size={22} bold font={NARROW} color="#000">
          {t}
        </Txt>
      ))}
      {NOTES.map(([t, x, y, s, al], i) => (
        <Txt key={"N" + i} x={x} y={y} size={s} align={al}>
          {t}
        </Txt>
      ))}

      {/* Panel A legend */}
      {aLegend.map((name, i) => {
        const y = 61 + i * 14;
        const [line, fillC, edge] = aCols[i];
        return (
          <React.Fragment key={"al" + i}>
            <div style={{ position: "absolute", left: 63, top: y - 1, width: 18, height: 2, background: line }} />
            <div
              style={{
                position: "absolute", left: 68.5, top: y - 3.5, width: 7, height: 7, borderRadius: "50%",
                background: fillC, border: `1px solid ${edge}`, boxSizing: "border-box",
              }}
            />
            <Txt x={86} y={y} size={14} color="#111">
              {name}
            </Txt>
          </React.Fragment>
        );
      })}

      {/* Panel H legend */}
      {hLegend.map((name, i) => {
        const y = 487 + i * 14.5;
        return (
          <React.Fragment key={"hl" + i}>
            <div style={{ position: "absolute", left: 200.5, top: y - 2.5, width: 5, height: 5, borderRadius: "50%", background: hCols[i] }} />
            <Txt x={212} y={y} size={13} color="#111">
              {name}
            </Txt>
          </React.Fragment>
        );
      })}

      {/* Panel M legend */}
      {mLegend.map((name, i) => {
        const y = 638 + i * 14.5;
        return (
          <React.Fragment key={"ml" + i}>
            <Txt x={915} y={y} size={14} align="center" font="'DejaVu Sans', sans-serif" color="#111">
              {i === 0 ? "□" : "△"}
            </Txt>
            <Txt x={926} y={y} size={16} color="#111">
              {name}
            </Txt>
          </React.Fragment>
        );
      })}
    </div>
  );
}
